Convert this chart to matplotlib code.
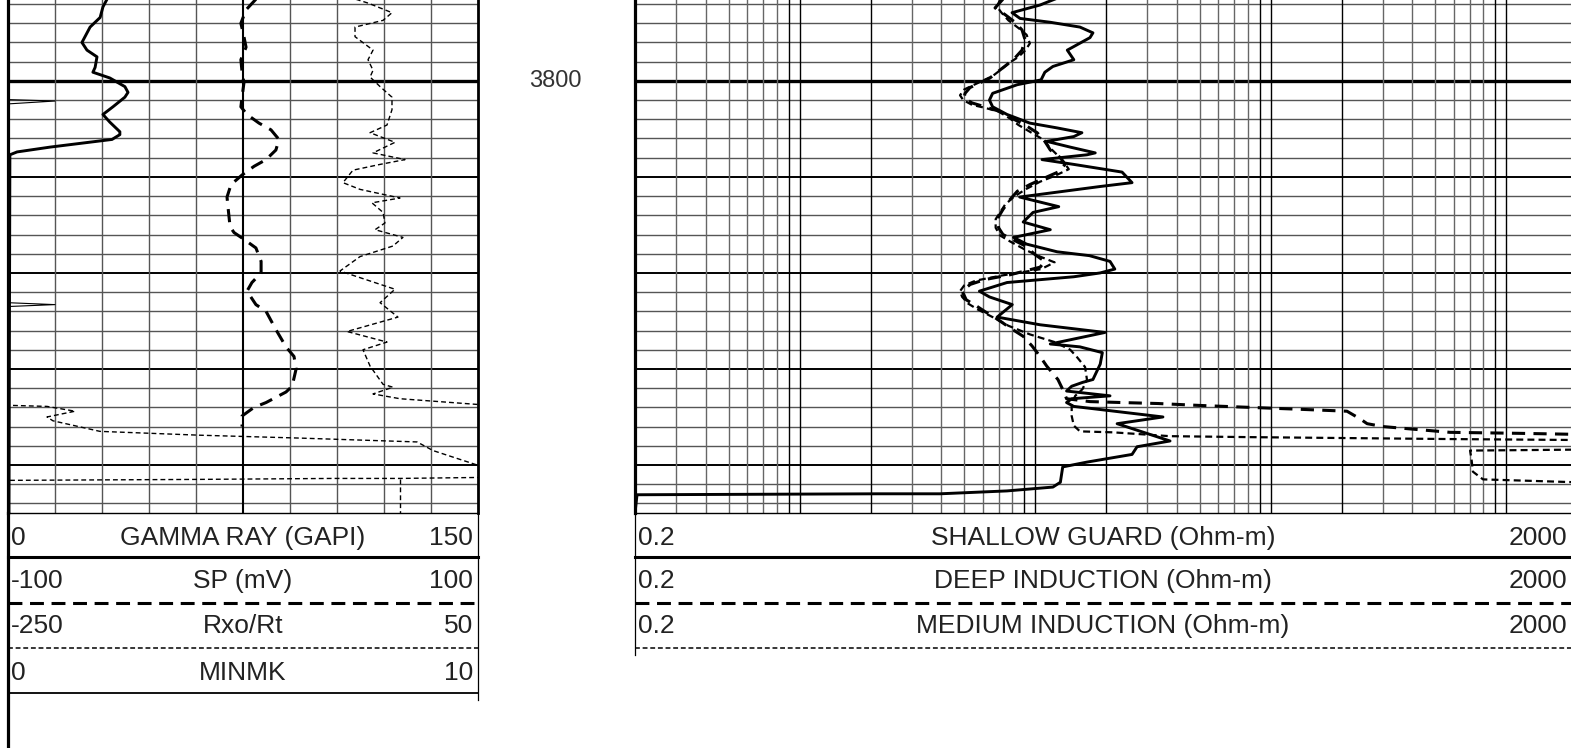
import numpy as np
import matplotlib.pyplot as plt

plt.rcParams['font.family'] = ['Liberation Sans', 'DejaVu Sans']
plt.rcParams['lines.scale_dashes'] = False

# ---- depth interval (ft) ----
TOP_DEPTH, BASE_DEPTH = 3791.58, 3845.0

# ---- left track curves ----
GR_DEPTH = [3791.5, 3792.3, 3793.4, 3794.4, 3796.0, 3796.8, 3797.5, 3798.6, 3799.1, 3799.7,
            3800.6, 3801.2, 3801.7, 3802.7, 3803.5, 3804.3, 3805.3, 3805.6, 3806.1, 3806.9,
            3807.4, 3807.7, 3845.0]
GR = [31.6, 30.3, 29.4, 26.2, 23.6, 25.2, 28.4, 27.8, 27.1, 32.5,
      37.3, 38.3, 37.3, 33.5, 30.3, 32.5, 35.7, 35.7, 33.2, 13.4,
      2.9, 0.6, 0.3]

MINMK_DEPTH = [3791.5, 3801.95, 3802.1, 3802.4, 3823.1, 3823.3, 3823.5, 3845.0]
MINMK = [0.0, 0.0, 1.0, 0.0, 0.0, 1.0, 0.0, 0.0]

SP_DEPTH = [3791.5, 3792.6, 3794.0, 3795.4, 3796.5, 3797.8, 3799.1, 3800.2, 3801.7, 3802.7,
            3803.5, 3804.4, 3805.1, 3806.1, 3807.2, 3808.2, 3808.9, 3809.8, 3810.8, 3812.1,
            3813.1, 3815.2, 3815.8, 3816.5, 3817.4, 3818.8, 3820.0, 3821.0, 3821.9, 3823.3,
            3824.0, 3825.9, 3827.7, 3828.7, 3830.0, 3831.8, 3832.4, 3833.5, 3834.0, 3834.9,
            3836.0]
SP = [5.5, 1.3, -0.9, 0.4, 1.3, -0.9, -0.4, 0.4, -0.4, -0.9,
      1.7, 6.8, 11.9, 15.3, 14.0, 9.8, 4.7, -0.4, -5.1, -6.8,
      -6.4, -5.5, -3.8, 0.4, 5.5, 7.7, 7.7, 3.8, 1.7, 5.5,
      9.8, 14.0, 18.3, 21.7, 22.6, 20.9, 18.3, 9.8, 4.7, -0.4,
      -0.4]

RXO_DEPTH = [3791.5, 3791.9, 3792.9, 3793.7, 3794.4, 3795.4, 3796.8, 3797.8, 3798.9, 3799.6,
             3800.6, 3801.7, 3803.0, 3804.6, 3805.4, 3806.4, 3807.5, 3808.2, 3808.7, 3809.3,
             3810.6, 3811.3, 3812.2, 3812.7, 3813.7, 3814.8, 3815.5, 3816.3, 3817.2, 3818.3,
             3819.8, 3821.7, 3823.1, 3824.6, 3826.1, 3827.2, 3828.0, 3829.7, 3831.6, 3831.9,
             3832.6, 3833.1, 3833.7]
RXO = [-28.0, -20.2, -4.9, -10.6, -28.5, -28.5, -17.0, -20.2, -17.0, -18.9,
       -12.5, -4.9, -4.9, -8.1, -18.9, -3.0, -17.0, 3.4, -12.5, -29.8,
       -36.2, -25.3, 0.2, -17.7, -10.6, -9.4, -15.7, 2.1, -4.3, -25.3,
       -38.1, -3.0, -12.5, -1.1, -33.6, -8.1, -23.4, -18.9, -10.6, -4.3,
       -17.0, 0.2, 50.0]
# backup (wrapped) traces of Rxo/Rt
RXO_WRAP1_DEPTH = [3833.8, 3833.9, 3834.4, 3835.0, 3835.4, 3836.5, 3836.9, 3837.2, 3837.6, 3838.5, 3840.0]
RXO_WRAP1 = [-246.8, -225.1, -207.2, -225.1, -221.3, -191.3, -127.4, -63.6, 11.1, 21.3, 49.4]
RXO_WRAP2_DEPTH = [3841.6, 3841.5, 3841.4, 3841.4, 3841.3]
RXO_WRAP2 = [-248.7, -127.4, -42.6, 0.2, 50.0]
RXO_WRAP3_DEPTH = [3841.5, 3845.0]
RXO_WRAP3 = [0.2, 0.2]

# ---- right track curves (ohm-m) ----
SHALLOW_DEPTH = [3791.5, 3792.1, 3792.9, 3793.5, 3793.9, 3794.4, 3795.0, 3795.5, 3796.8, 3797.8,
                 3798.5, 3799.1, 3799.9, 3800.4, 3801.3, 3802.0, 3802.7, 3803.5, 3804.4, 3804.9,
                 3805.4, 3805.8, 3806.3, 3806.9, 3807.5, 3807.7, 3808.2, 3808.7, 3809.5, 3810.6,
                 3811.0, 3812.1, 3813.1, 3813.7, 3814.7, 3815.5, 3816.3, 3817.0, 3817.8, 3818.2,
                 3818.8, 3819.6, 3820.0, 3820.4, 3821.0, 3821.9, 3822.5, 3823.3, 3824.6, 3825.4,
                 3826.2, 3827.4, 3827.7, 3828.3, 3829.5, 3831.1, 3831.4, 3831.8, 3832.3, 3832.8,
                 3833.1, 3833.5, 3833.9, 3835.0, 3835.7, 3837.5, 3838.1, 3838.9, 3839.7, 3840.2,
                 3841.8, 3842.3, 3842.7, 3843.0, 3843.0, 3843.1, 3845.0]
SHALLOW = [12.1, 10.5, 7.98, 8.63, 11.6, 15.5, 17.6, 17.1, 13.7, 14.6,
           11.9, 11.0, 10.6, 8.4, 6.6, 6.4, 6.6, 7.6, 9.5, 12.4,
           15.8, 14.6, 11.2, 14.1, 18.0, 16.6, 10.7, 14.6, 23.4, 25.8,
           18.9, 8.6, 12.6, 9.8, 8.9, 11.6, 8.1, 9.2, 12.4, 17.0,
           20.8, 21.8, 18.9, 14.6, 7.6, 5.8, 6.4, 8.0, 6.9, 10.5,
           19.8, 11.6, 15.5, 19.3, 18.9, 17.6, 15.9, 14.3, 13.6, 20.8,
           14.3, 13.6, 14.6, 34.9, 22.3, 37.4, 27.1, 25.8, 16.6, 13.1,
           12.8, 11.9, 7.6, 3.95, 2.15, 0.204, 0.2]

DEEP_DEPTH = [3791.5, 3792.4, 3793.1, 3793.9, 3794.7, 3795.7, 3796.8, 3797.6, 3798.3, 3799.1,
              3799.7, 3800.2, 3800.7, 3801.3, 3801.8, 3802.3, 3802.7, 3803.2, 3803.9, 3804.6,
              3805.4, 3806.3, 3807.2, 3808.0, 3808.7, 3809.5, 3810.1, 3810.8, 3811.5, 3812.4,
              3813.4, 3814.4, 3815.3, 3816.0, 3816.5, 3817.2, 3818.1, 3818.8, 3819.4, 3820.2,
              3820.7, 3821.2, 3821.9, 3822.8, 3823.4, 3824.0, 3824.8, 3825.7, 3826.6, 3827.6,
              3828.7, 3829.7, 3831.1, 3832.3, 3833.1, 3833.4, 3833.5, 3833.6, 3833.8, 3834.0,
              3834.2, 3834.4, 3835.2, 3835.7, 3836.0, 3836.6, 3836.7, 3836.8, 3836.8]
DEEP = [7.3, 6.76, 7.45, 8.22, 8.8, 9.06, 8.8, 8.22, 7.6, 6.9,
        6.43, 5.83, 5.29, 5.04, 4.99, 5.4, 6.12, 7.1, 7.98, 9.06,
        10.2, 11.0, 11.6, 12.8, 13.4, 12.5, 11.0, 9.5, 8.4, 7.8,
        7.3, 6.9, 7.0, 7.3, 8.0, 9.1, 10.0, 11.0, 10.5, 7.8,
        6.1, 5.3, 4.9, 5.1, 5.6, 6.1, 6.9, 7.8, 8.9, 9.7,
        10.5, 11.2, 12.5, 13.2, 13.6, 17.1, 23.5, 33.3, 50.1, 81.6,
        133, 211, 240, 257, 300, 578, 1112, 1888, 2000]

MEDIUM_DEPTH = [3791.5, 3792.3, 3792.9, 3793.7, 3794.5, 3795.2, 3796.1, 3796.8, 3797.5, 3798.1,
                3798.9, 3799.5, 3799.9, 3800.5, 3800.9, 3801.5, 3802.0, 3802.5, 3802.8, 3803.2,
                3803.9, 3804.6, 3805.3, 3806.1, 3807.0, 3807.7, 3808.4, 3809.2, 3809.9, 3810.5,
                3811.3, 3812.1, 3812.9, 3813.7, 3814.4, 3815.3, 3816.1, 3816.7, 3817.6, 3818.3,
                3818.9, 3819.6, 3820.3, 3820.8, 3821.3, 3821.9, 3822.5, 3823.2, 3823.8, 3824.6,
                3825.5, 3826.4, 3827.2, 3828.0, 3828.8, 3829.8, 3831.1, 3832.1, 3832.8, 3833.7,
                3834.9, 3835.9, 3836.5, 3836.6, 3837.0, 3837.1, 3837.2, 3837.3, 3837.4]
MEDIUM = [7.1, 6.9, 7.2, 7.7, 8.5, 9.2, 9.5, 9.1, 8.5, 7.8,
          7.1, 6.6, 6.1, 5.4, 5.0, 4.8, 4.95, 5.4, 6.1, 7.0,
          7.8, 8.5, 9.5, 10.8, 11.6, 12.4, 13.2, 13.9, 12.1, 10.5,
          9.1, 8.1, 7.45, 7.1, 6.8, 6.8, 7.1, 7.8, 9.1, 10.5,
          12.1, 10.6, 7.1, 5.6, 5.0, 4.8, 4.9, 5.2, 5.7, 6.6,
          7.7, 9.5, 12.1, 14.1, 15.1, 16.3, 16.6, 15.9, 14.8, 14.3,
          14.3, 14.6, 15.5, 21.4, 37.4, 81.6, 217, 578, 2000]
MEDIUM_WRAP_DEPTH = [3838.4, 3838.5, 3839.4, 3840.7, 3841.5, 3841.8]
MEDIUM_WRAP = [2000, 703, 713, 723, 798, 2000]

# ---- header text ----
LEFT_HEADER = [("0", "GAMMA RAY (GAPI)", "150"),
               ("-100", "SP (mV)", "100"),
               ("-250", "Rxo/Rt", "50"),
               ("0", "MINMK", "10")]
RIGHT_HEADER = [("0.2", "SHALLOW GUARD (Ohm-m)", "2000"),
                ("0.2", "DEEP INDUCTION (Ohm-m)", "2000"),
                ("0.2", "MEDIUM INDUCTION (Ohm-m)", "2000")]
DEPTH_LABELS = [3800]

# ---- styles ----
SOLID = dict(color='black', lw=2.1, ls='-')
LONG_DASH = dict(color='black', lw=2.2, dashes=(9.5, 6))
FINE_DASH = dict(color='black', lw=1.0, dashes=(3.5, 2.2))
MED_DASH = dict(color='black', lw=1.6, dashes=(5, 3))
THIN = dict(color='black', lw=0.8, ls='-')

W, H = 1571, 748
fig = plt.figure(figsize=(W / 100, H / 100), dpi=100)


def px_box(x0, y0, x1, y1):
    return [x0 / W, 1 - y1 / H, (x1 - x0) / W, (y1 - y0) / H]


def depth_grid(ax):
    for d in np.arange(3792, 3845, 2):
        if d % 100 == 0:
            ax.axhline(d, color='black', lw=2.4, zorder=1)
        elif d % 10 == 0:
            ax.axhline(d, color='black', lw=1.4, zorder=1)
        else:
            ax.axhline(d, color='#555555', lw=1.0, zorder=1)


# left track
ax_l = fig.add_axes(px_box(8, 0, 478, 513))
ax_l.set_ylim(BASE_DEPTH, TOP_DEPTH)
ax_l.set_xlim(0, 150)
depth_grid(ax_l)
for i, g in enumerate(np.linspace(0, 150, 11)):
    if i == 5:
        ax_l.axvline(g, color='black', lw=1.5, zorder=1)
    elif 0 < i < 10:
        ax_l.axvline(g, color='#555555', lw=1.0, zorder=1)

ax_l.plot(GR, GR_DEPTH, zorder=5, **SOLID)

ax_sp = ax_l.twiny()
ax_sp.set_xlim(-100, 100)
ax_sp.plot(SP, SP_DEPTH, zorder=5, **LONG_DASH)

ax_rxo = ax_l.twiny()
ax_rxo.set_xlim(-250, 50)
ax_rxo.plot(RXO, RXO_DEPTH, zorder=5, **FINE_DASH)
ax_rxo.plot(RXO_WRAP1, RXO_WRAP1_DEPTH, zorder=5, **FINE_DASH)
ax_rxo.plot(RXO_WRAP2, RXO_WRAP2_DEPTH, zorder=5, **FINE_DASH)
ax_rxo.plot(RXO_WRAP3, RXO_WRAP3_DEPTH, zorder=5, **FINE_DASH)

ax_mk = ax_l.twiny()
ax_mk.set_xlim(0, 10)
ax_mk.plot(MINMK, MINMK_DEPTH, zorder=5, **THIN)

for a in (ax_l, ax_sp, ax_rxo, ax_mk):
    a.set_ylim(BASE_DEPTH, TOP_DEPTH)
    a.set_xticks([])
    a.set_yticks([])
    for s in a.spines.values():
        s.set_visible(False)
ax_l.spines['left'].set_visible(True)
ax_l.spines['left'].set_linewidth(2.3)
ax_l.spines['right'].set_visible(True)
ax_l.spines['right'].set_linewidth(2.0)
ax_l.spines['bottom'].set_visible(True)
ax_l.spines['bottom'].set_linewidth(1.0)

# right track (log)
ax_r = fig.add_axes(px_box(635, 0, 1577, 513))
ax_r.set_xscale('log')
ax_r.set_xlim(0.2, 2000)
ax_r.set_ylim(BASE_DEPTH, TOP_DEPTH)
depth_grid(ax_r)
for dec in [0.1, 1, 10, 100, 1000]:
    for m in range(1, 10):
        v = dec * m
        if v <= 0.2 or v >= 2000:
            continue
        if m in (1, 2, 9):
            ax_r.axvline(v, color='black', lw=1.0, zorder=1)
        else:
            ax_r.axvline(v, color='#666666', lw=1.0, zorder=1)

ax_r.plot(SHALLOW, SHALLOW_DEPTH, zorder=5, **SOLID)
ax_r.plot(DEEP, DEEP_DEPTH, zorder=5, **LONG_DASH)
ax_r.plot(MEDIUM, MEDIUM_DEPTH, zorder=5, **MED_DASH)
ax_r.plot(MEDIUM_WRAP, MEDIUM_WRAP_DEPTH, zorder=5, **MED_DASH)
ax_r.set_xticks([], minor=True)
ax_r.set_xticks([])
ax_r.set_yticks([])
for s in ax_r.spines.values():
    s.set_visible(False)
ax_r.spines['left'].set_visible(True)
ax_r.spines['left'].set_linewidth(2.3)
ax_r.spines['bottom'].set_visible(True)
ax_r.spines['bottom'].set_linewidth(1.0)

# depth labels between the tracks
ax_d = fig.add_axes(px_box(478, 0, 635, 513))
ax_d.set_ylim(BASE_DEPTH, TOP_DEPTH)
ax_d.set_xlim(0, 1)
ax_d.axis('off')
for d in DEPTH_LABELS:
    ax_d.text(0.49, d, str(d), ha='center', va='center', fontsize=17, color='#333333')

# header panel, drawn in pixel space
ov = fig.add_axes([0, 0, 1, 1])
ov.set_xlim(0, W)
ov.set_ylim(H, 0)
ov.axis('off')

ov.plot([8, 8], [513, H], color='black', lw=2.3)
ov.plot([478, 478], [513, 700], color='black', lw=0.9)
ov.plot([635, 635], [513, 655], color='black', lw=0.9)

row_y = [538, 581, 626, 673]
sep_y = [557, 603, 648, 693]
sep_style = [dict(color='black', lw=2.2, ls='-'),
             dict(color='black', lw=2.2, dashes=(10, 5.5)),
             dict(color='black', lw=1.1, dashes=(3.5, 2)),
             dict(color='black', lw=1.3, ls='-')]
fs = 19
tc = '#222222'
for (lo, name, hi), y, sy, st in zip(LEFT_HEADER, row_y, sep_y, sep_style):
    ov.text(11, y, lo, ha='left', va='center', fontsize=fs, color=tc)
    ov.text(243, y, name, ha='center', va='center', fontsize=fs, color=tc)
    ov.text(473, y, hi, ha='right', va='center', fontsize=fs, color=tc)
    ov.plot([8, 478], [sy, sy], **st)

for (lo, name, hi), y, sy, st in zip(RIGHT_HEADER, row_y, sep_y, sep_style):
    ov.text(638, y, lo, ha='left', va='center', fontsize=fs, color=tc)
    ov.text(1103, y, name, ha='center', va='center', fontsize=fs, color=tc)
    ov.text(1567, y, hi, ha='right', va='center', fontsize=fs, color=tc)
    ov.plot([635, W], [sy, sy], **st)

fig.savefig('out.png', dpi=100)
